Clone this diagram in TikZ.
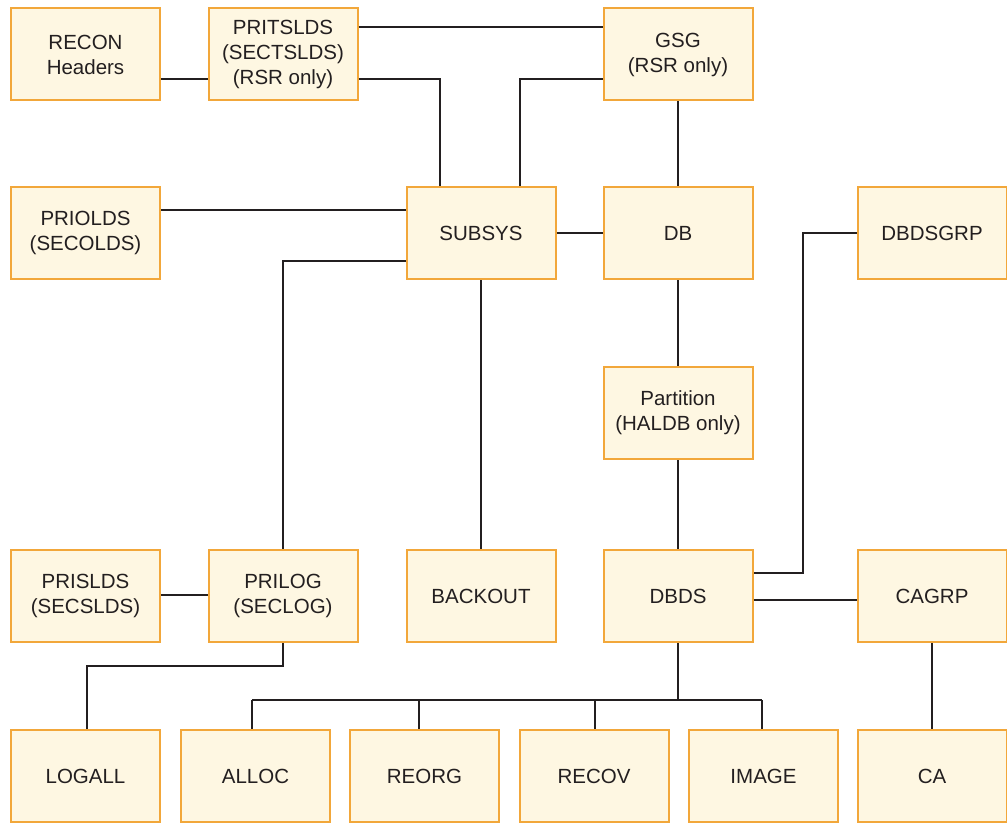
\documentclass[tikz,border=0pt]{standalone}
\usepackage{fontspec}
\setmainfont{Liberation Sans}
\usepackage{tikz}
\definecolor{boxfill}{HTML}{FEF7E2}
\definecolor{boxdraw}{HTML}{F2A73A}
\definecolor{ink}{HTML}{231F20}

\begin{document}
\begin{tikzpicture}[
    x=1pt,y=-1pt,
    box/.style={draw=boxdraw,fill=boxfill,line width=2pt,minimum width=149pt,
      minimum height=92pt,inner sep=2pt,align=center,text=ink,
      font=\fontsize{20.5}{25}\selectfont},
    link/.style={draw=ink,line width=2.2pt}
]
\useasboundingbox (0,0) rectangle (1007,824);

% top rows
\node[box] (recon)     at (85.5,54.5)  {RECON\\Headers};
\node[box] (pritslds)  at (283,54.5)   {PRITSLDS\\(SECTSLDS)\\(RSR only)};
\node[box] (gsg)       at (678,54.5)   {GSG\\(RSR only)};
\node[box] (priolds)   at (85.5,233)   {PRIOLDS\\(SECOLDS)};
\node[box] (subsys)    at (481,233)    {SUBSYS};
\node[box] (db)        at (678,233)    {DB};
\node[box] (dbdsgrp)   at (932,233)    {DBDSGRP};
\node[box] (partition) at (678,413)    {Partition\\(HALDB only)};

% middle row
\node[box] (prislds) at (85.5,596)  {PRISLDS\\(SECSLDS)};
\node[box] (prilog)  at (283,596)   {PRILOG\\(SECLOG)};
\node[box] (backout) at (481,596)   {BACKOUT};
\node[box] (dbds)    at (678,596)   {DBDS};
\node[box] (cagrp)   at (932,596)   {CAGRP};

% bottom row
\foreach \n/\x/\t in {logall/85.5/LOGALL,alloc/255.5/ALLOC,reorg/424.5/REORG,
    recov/594/RECOV,image/763.5/IMAGE,ca/932/CA}
  \node[box] (\n) at (\x,776) {\t};

% connectors
\draw[link] (recon.east |- 0,79) -- (pritslds.west |- 0,79);
\draw[link] (pritslds.east |- 0,27) -- (gsg.west |- 0,27);
\draw[link] (pritslds.east |- 0,79) -| (440,0 |- subsys.north);
\draw[link] (gsg.west |- 0,79) -| (520,0 |- subsys.north);
\draw[link] (gsg.south) -- (db.north);
\draw[link] (priolds.east |- 0,210) -- (subsys.west |- 0,210);
\draw[link] (subsys.east) -- (db.west);
\draw[link] (subsys.west |- 0,261) -| (prilog.north);
\draw[link] (subsys.south) -- (backout.north);
\draw[link] (db.south) -- (partition.north);
\draw[link] (partition.south) -- (dbds.north);
\draw[link] (dbdsgrp.west) -| (803,573) -- (dbds.east |- 0,573);
\draw[link] (dbds.east |- 0,600) -- (cagrp.west |- 0,600);
\draw[link] (prislds.east |- 0,595) -- (prilog.west |- 0,595);
\draw[link] (prilog.south) -- (283,666) -| (87,0 |- logall.north);
\draw[link] (cagrp.south) -- (ca.north);

% fan out from DBDS
\coordinate (bus) at (678,700);
\draw[link] (dbds.south) -- (bus);
\draw[link] (252,700) -- (762,700);
\foreach \n/\x in {alloc/252,reorg/419,recov/595,image/762}
  \draw[link] (\x,700) -- (\x,0 |- \n.north);
\end{tikzpicture}
\end{document}
